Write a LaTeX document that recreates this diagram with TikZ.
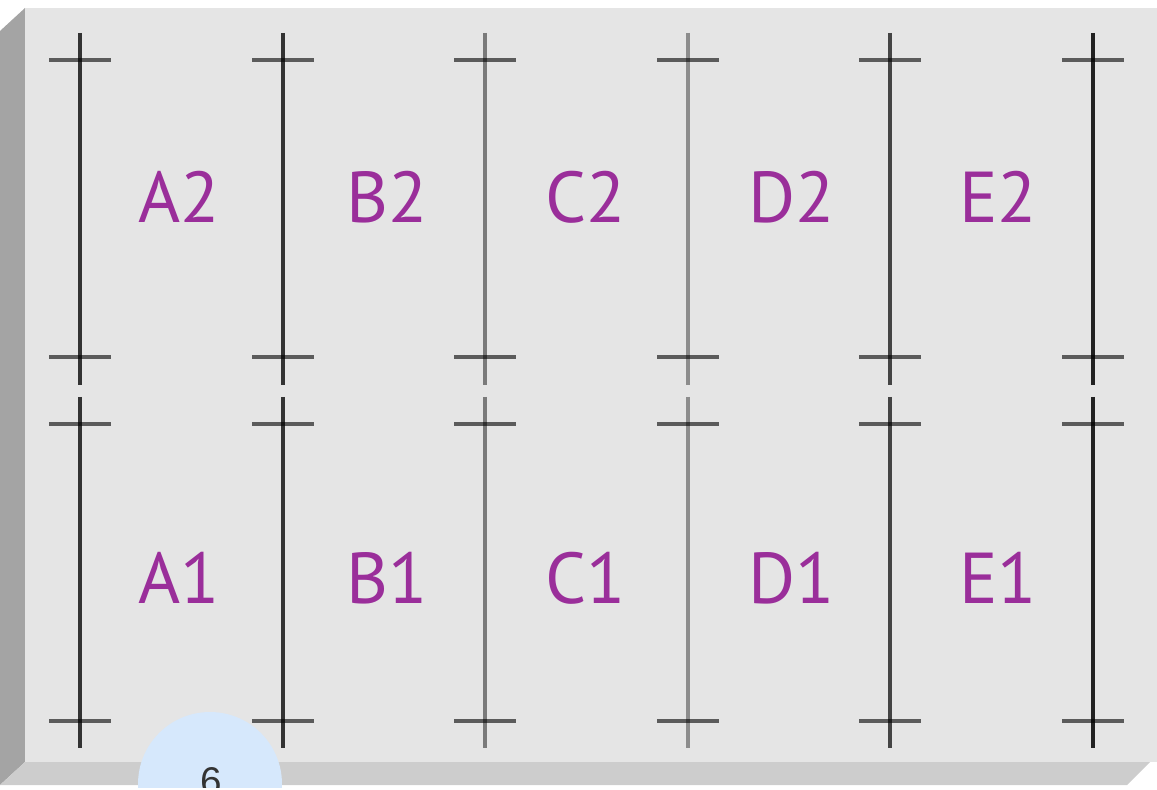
\documentclass[tikz,border=0pt]{standalone}
\usepackage{fontspec}
\setmainfont{PT Sans}
\newfontfamily\badgefont{Liberation Sans}
\usetikzlibrary{positioning}
\definecolor{plateface}{HTML}{E5E5E5}
\definecolor{plateside}{HTML}{A4A4A4}
\definecolor{platebase}{HTML}{CDCDCD}
\definecolor{bayviolet}{HTML}{9A2E9A}
\definecolor{badgeblue}{HTML}{D6E8FC}
\definecolor{badgeink}{HTML}{333333}

\begin{document}
\begin{tikzpicture}[x=0.02cm,y=-0.02cm,
  bay/.style={anchor=base west,inner sep=0pt,text=bayviolet,font=\fontsize{41}{41}\selectfont},
  post/.style={line width=2.3pt},
  crossbar/.style={line width=2.1pt,draw=black,draw opacity=0.6},
  badge/.style={circle,fill=badgeblue,inner sep=0pt,minimum size=2.88cm}]
\useasboundingbox (0,0) rectangle (1157,790);
% plate
\fill[plateside] (25,8) -- (0,31) -- (0,785) -- (25,762) -- cycle;
\fill[platebase] (25,762) -- (0,785) -- (1127,785) -- (1150,762) -- cycle;
\fill[plateface] (25,8) rectangle (1157,762);
% posts
\foreach \x/\c in {80/333333,283/333333,485/7A7A7A,688/8C8C8C,890/444444,1093/222222}{
  \definecolor{postc}{HTML}{\c}
  \draw[post,postc] (\x,33) -- (\x,385) (\x,397) -- (\x,748);
  \foreach \y in {60,357,424,721}
    \draw[crossbar] (\x-31,\y) -- (\x+31,\y);
}
% bays
\foreach \col/\x in {A/138,B/346,C/545,D/748,E/959}{
  \node[bay] (\col2) at (\x,223) {\col2};
  \node[bay] (\col1) at (\x,603) {\col1};
}
% badge
\begin{scope}
\clip (0,0) rectangle (1157,787);
\node[badge] (badge) at (210,784) {};
\node[anchor=base,inner sep=0pt,text=badgeink,font=\badgefont\fontsize{22}{22}\selectfont] (six) at (211,794) {6};
\end{scope}
\end{tikzpicture}
\end{document}
